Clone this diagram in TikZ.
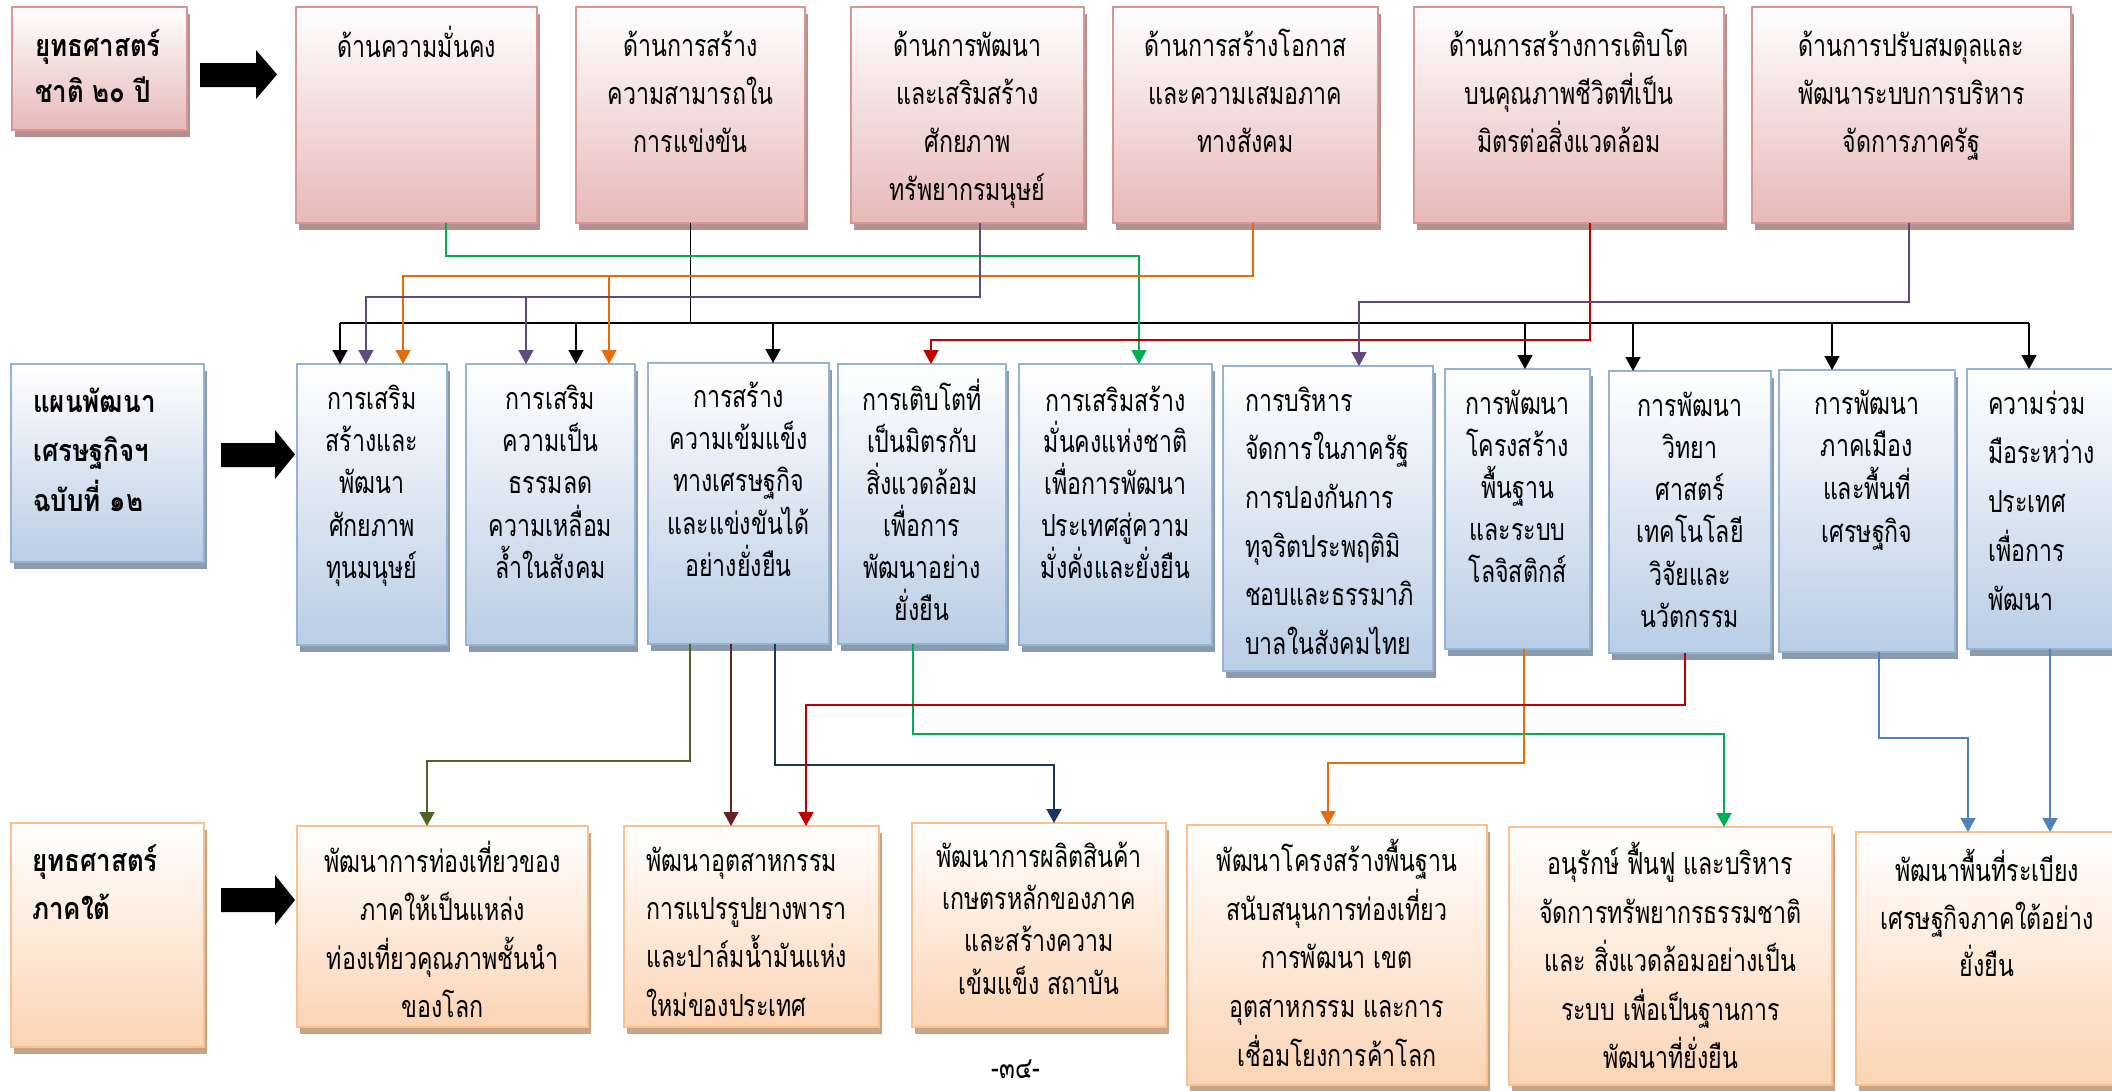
\documentclass[tikz,border=0pt]{standalone}
\usepackage{fontspec}
\newfontfamily\thai[Script=Thai,FakeStretch=0.76]{Loma}
\newfontfamily\thaibold[Script=Thai,FakeStretch=0.85]{Loma}
\usetikzlibrary{arrows.meta,shadows}
\definecolor{pinkbot}{HTML}{E6B9B8}
\definecolor{pinkborder}{HTML}{D99694}
\definecolor{pinkshadow}{HTML}{B4908F}
\definecolor{bluebot}{HTML}{B9CDE5}
\definecolor{blueborder}{HTML}{95B3D7}
\definecolor{blueshadow}{HTML}{8C9AAE}
\definecolor{orbot}{HTML}{FBD4B4}
\definecolor{orborder}{HTML}{FAC090}
\definecolor{orshadow}{HTML}{C8A486}
\definecolor{cgreen}{HTML}{00B050}
\definecolor{corange}{HTML}{E46C0A}
\definecolor{cpurple}{HTML}{604A7B}
\definecolor{cred}{HTML}{C00000}
\definecolor{colive}{HTML}{4F6228}
\definecolor{cmaroon}{HTML}{632523}
\definecolor{cnavy}{HTML}{17375E}
\definecolor{cblue}{HTML}{4F81BD}
\newcommand\fl{\rule{0pt}{30pt}}
\newcommand\noskip{\lineskiplimit=-50pt\relax}
\tikzset{
  basebox/.style={line width=2.5pt, inner sep=0pt, outer sep=0pt},
  pinkbox/.style={basebox, draw=pinkborder, top color=white, bottom color=pinkbot,
    drop shadow={shadow xshift=3pt,shadow yshift=-7pt,fill=pinkshadow,opacity=1}},
  bluebox/.style={basebox, draw=blueborder, top color=white, bottom color=bluebot,
    drop shadow={shadow xshift=3pt,shadow yshift=-7pt,fill=blueshadow,opacity=1}},
  orbox/.style={basebox, draw=orborder, top color=white, bottom color=orbot,
    drop shadow={shadow xshift=3pt,shadow yshift=-7pt,fill=orshadow,opacity=1}},
  tx/.style={inner sep=0pt, align=center, anchor=north,
    font={\thai\fontsize{30.5}{#1}\selectfont\noskip}},
  tx/.default=48,
  txl/.style={tx=#1, align=left, anchor=north west},
  txl/.default=48,
  txb/.style={inner sep=0pt, align=left, anchor=north west,
    font={\thaibold\bfseries\fontsize{30.5}{#1}\selectfont\noskip}},
  txb/.default=48,
  ln/.style={line width=1.5pt},
  conn/.style={line width=1.5pt, -{Triangle[width=15pt,length=14pt]}},
}
\begin{document}
\begin{tikzpicture}[x=1pt,y=-1pt]
\clip (0,0) rectangle (2112,1090);
\fill[white] (0,0) rectangle (2112,1090);

% ---------- top row ----------
\node[pinkbox, minimum width=175pt, minimum height=123pt] (A) at (99.5,68.5) {};
\node[pinkbox, minimum width=241pt, minimum height=216pt] (T1) at (416.5,115) {};
\node[pinkbox, minimum width=229pt, minimum height=216pt] (T2) at (690.5,115) {};
\node[pinkbox, minimum width=233pt, minimum height=216pt] (T3) at (967.5,115) {};
\node[pinkbox, minimum width=265pt, minimum height=216pt] (T4) at (1245.5,115) {};
\node[pinkbox, minimum width=310pt, minimum height=216pt] (T5) at (1569,115) {};
\node[pinkbox, minimum width=319pt, minimum height=216pt] (T6) at (1911.5,115) {};

\node[txb=46] (At) at (35,26) {\fl ยุทธศาสตร์\\ชาติ ๒๐ ปี};
\node[tx] (T1t) at (416.5,26) {\fl ด้านความมั่นคง};
\node[tx] (T2t) at (690.5,26) {\fl ด้านการสร้าง\\ความสามารถใน\\การแข่งขัน};
\node[tx] (T3t) at (967.5,26) {\fl ด้านการพัฒนา\\และเสริมสร้าง\\ศักยภาพ\\ทรัพยากรมนุษย์};
\node[tx] (T4t) at (1245.5,26) {\fl ด้านการสร้างโอกาส\\และความเสมอภาค\\ทางสังคม};
\node[tx] (T5t) at (1569,26) {\fl ด้านการสร้างการเติบโต\\บนคุณภาพชีวิตที่เป็น\\มิตรต่อสิ่งแวดล้อม};
\node[tx] (T6t) at (1911.5,26) {\fl ด้านการปรับสมดุลและ\\พัฒนาระบบการบริหาร\\จัดการภาครัฐ};

% ---------- middle row ----------
\node[bluebox, minimum width=193pt, minimum height=198pt] (B) at (107.5,463) {};
\node[bluebox, minimum width=150pt, minimum height=281pt] (M1) at (372,504.5) {};
\node[bluebox, minimum width=169pt, minimum height=281pt] (M2) at (550.5,504.5) {};
\node[bluebox, minimum width=181pt, minimum height=281pt] (M3) at (738.5,503.5) {};
\node[bluebox, minimum width=168pt, minimum height=280pt] (M4) at (922,504) {};
\node[bluebox, minimum width=193pt, minimum height=281pt] (M5) at (1115.5,504.5) {};
\node[bluebox, minimum width=210pt, minimum height=305pt] (M6) at (1328,518.5) {};
\node[bluebox, minimum width=145pt, minimum height=280pt] (M7) at (1517.5,509) {};
\node[bluebox, minimum width=162pt, minimum height=282pt] (M8) at (1690,512) {};
\node[bluebox, minimum width=176pt, minimum height=282pt] (M9) at (1867,511) {};
\node[bluebox, minimum width=158pt, minimum height=280pt] (M10) at (2046,509) {};

\node[txb=49.5] (Bt) at (33,382) {\fl แผนพัฒนา\\เศรษฐกิจฯ\\ฉบับที่ ๑๒};
\node[tx=42.3] (M1t) at (372,379) {\fl การเสริม\\สร้างและ\\พัฒนา\\ศักยภาพ\\ทุนมนุษย์};
\node[tx=42.3] (M2t) at (550.5,379) {\fl การเสริม\\ความเป็น\\ธรรมลด\\ความเหลื่อม\\ล้ำในสังคม};
\node[tx=42.3] (M3t) at (738.5,377) {\fl การสร้าง\\ความเข้มแข็ง\\ทางเศรษฐกิจ\\และแข่งขันได้\\อย่างยั่งยืน};
\node[tx=42] (M4t) at (922,379) {\fl การเติบโตที่\\เป็นมิตรกับ\\สิ่งแวดล้อม\\เพื่อการ\\พัฒนาอย่าง\\ยั่งยืน};
\node[tx=41.7] (M5t) at (1115.5,381) {\fl การเสริมสร้าง\\มั่นคงแห่งชาติ\\เพื่อการพัฒนา\\ประเทศสู่ความ\\มั่งคั่งและยั่งยืน};
\node[txl=48.6] (M6t) at (1245,381) {\fl การบริหาร\\จัดการในภาครัฐ\\การปองกันการ\\ทุจริตประพฤติมิ\\ชอบและธรรมาภิ\\บาลในสังคมไทย};
\node[tx=42] (M7t) at (1517.5,384) {\fl การพัฒนา\\โครงสร้าง\\พื้นฐาน\\และระบบ\\โลจิสติกส์};
\node[tx=42.2] (M8t) at (1690,386) {\fl การพัฒนา\\วิทยา\\ศาสตร์\\เทคโนโลยี\\วิจัยและ\\นวัตกรรม};
\node[tx=42.7] (M9t) at (1867,384) {\fl การพัฒนา\\ภาคเมือง\\และพื้นที่\\เศรษฐกิจ};
\node[txl=49] (M10t) at (1988,384) {\fl ความร่วม\\มือระหว่าง\\ประเทศ\\เพื่อการ\\พัฒนา};

% ---------- bottom row ----------
\node[orbox, minimum width=193pt, minimum height=224pt] (C) at (107.5,935) {};
\node[orbox, minimum width=291pt, minimum height=201pt] (B1) at (442.5,926.5) {};
\node[orbox, minimum width=255pt, minimum height=201pt] (B2) at (751.5,926.5) {};
\node[orbox, minimum width=254pt, minimum height=204pt] (B3) at (1039,925) {};
\node[orbox, minimum width=300pt, minimum height=260pt] (B4) at (1337,955) {};
\node[orbox, minimum width=323pt, minimum height=258pt] (B5) at (1670.5,956) {};
\node[orbox, minimum width=262pt, minimum height=253pt] (B6) at (1987,958.5) {};

\node[txb=48] (Ct) at (32,841) {\fl ยุทธศาสตร์\\ภาคใต้};
\node[tx=48.3] (B1t) at (442.5,841) {\fl พัฒนาการท่องเที่ยวของ\\ภาคให้เป็นแหล่ง\\ท่องเที่ยวคุณภาพชั้นนำ\\ของโลก};
\node[txl=48.3] (B2t) at (646,841) {\fl พัฒนาอุตสาหกรรม\\การแปรรูปยางพารา\\และปาล์มน้ำมันแห่ง\\ใหม่ของประเทศ};
\node[tx=42.3] (B3t) at (1039,837) {\fl พัฒนาการผลิตสินค้า\\เกษตรหลักของภาค\\และสร้างความ\\เข้มแข็ง สถาบัน};
\node[tx=48.7] (B4t) at (1337,839) {\fl พัฒนาโครงสร้างพื้นฐาน\\สนับสนุนการท่องเที่ยว\\การพัฒนา เขต\\อุตสาหกรรม และการ\\เชื่อมโยงการค้าโลก};
\node[tx=48.5] (B5t) at (1670.5,842) {\fl อนุรักษ์ ฟื้นฟู และบริหาร\\จัดการทรัพยากรธรรมชาติ\\และ สิ่งแวดล้อมอย่างเป็น\\ระบบ เพื่อเป็นฐานการ\\พัฒนาที่ยั่งยืน};
\node[tx=47.5] (B6t) at (1987,849) {\fl พัฒนาพื้นที่ระเบียง\\เศรษฐกิจภาคใต้อย่าง\\ยั่งยืน};

\node[inner sep=0pt, anchor=base, font={\thai\fontsize{30.5}{32}\selectfont}] (pg) at (1016,1078) {-๓๔-};

% ---------- block arrows ----------
\fill[black] (200,63) -- (256,63) -- (256,50) -- (277,74.5) -- (256,99) -- (256,87) -- (200,87) -- cycle;
\fill[black] (221,443) -- (275,443) -- (275,430) -- (295,454.5) -- (275,479) -- (275,467) -- (221,467) -- cycle;
\fill[black] (221,888) -- (275,888) -- (275,875) -- (295,900) -- (275,925) -- (275,912) -- (221,912) -- cycle;

% ---------- connectors top -> middle ----------
\coordinate (busL) at (340,323);
\coordinate (busR) at (2029,323);
\draw[ln] (T2.south) -- (T2.south |- busL);
\draw[ln] (busL) -- (busR);
\foreach \n/\x in {M1/340,M2/576,M3/773,M7/1525,M8/1633,M9/1832,M10/2029}
  \draw[conn] (\x,323) -- (\n.north -| \x,0);
\draw[conn,cgreen] (T1.south -| 446,0) |- (1139,256) -- (M5.north -| 1139,0);
\draw[conn,corange] (T4.south -| 1253,0) |- (403,276) -- (M1.north -| 403,0);
\draw[conn,corange] (609,276) -- (M2.north -| 609,0);
\draw[conn,cpurple] (T3.south -| 980,0) |- (366,297) -- (M1.north -| 366,0);
\draw[conn,cpurple] (526,297) -- (M2.north -| 526,0);
\draw[conn,cred] (T5.south -| 1590,0) |- (931,340) -- (M4.north -| 931,0);
\draw[conn,cpurple] (T6.south -| 1909,0) |- (1359,302) -- (M6.north -| 1359,0);

% ---------- connectors middle -> bottom ----------
\draw[conn,colive] (M3.south -| 690,0) |- (427,761) -- (B1.north -| 427,0);
\draw[conn,cmaroon] (M3.south -| 731,0) -- (B2.north -| 731,0);
\draw[conn,cnavy] (M3.south -| 775,0) |- (1054,765) -- (B3.north -| 1054,0);
\draw[conn,cgreen] (M4.south -| 913,0) |- (1724,734) -- (B5.north -| 1724,0);
\draw[conn,corange] (M7.south -| 1524,0) |- (1328,763) -- (B4.north -| 1328,0);
\draw[conn,cred] (M8.south -| 1685,0) |- (806,705) -- (B2.north -| 806,0);
\draw[conn,cblue] (M9.south -| 1879,0) |- (1968,738) -- (B6.north -| 1968,0);
\draw[conn,cblue] (M10.south -| 2050,0) -- (B6.north -| 2050,0);
\end{tikzpicture}
\end{document}
